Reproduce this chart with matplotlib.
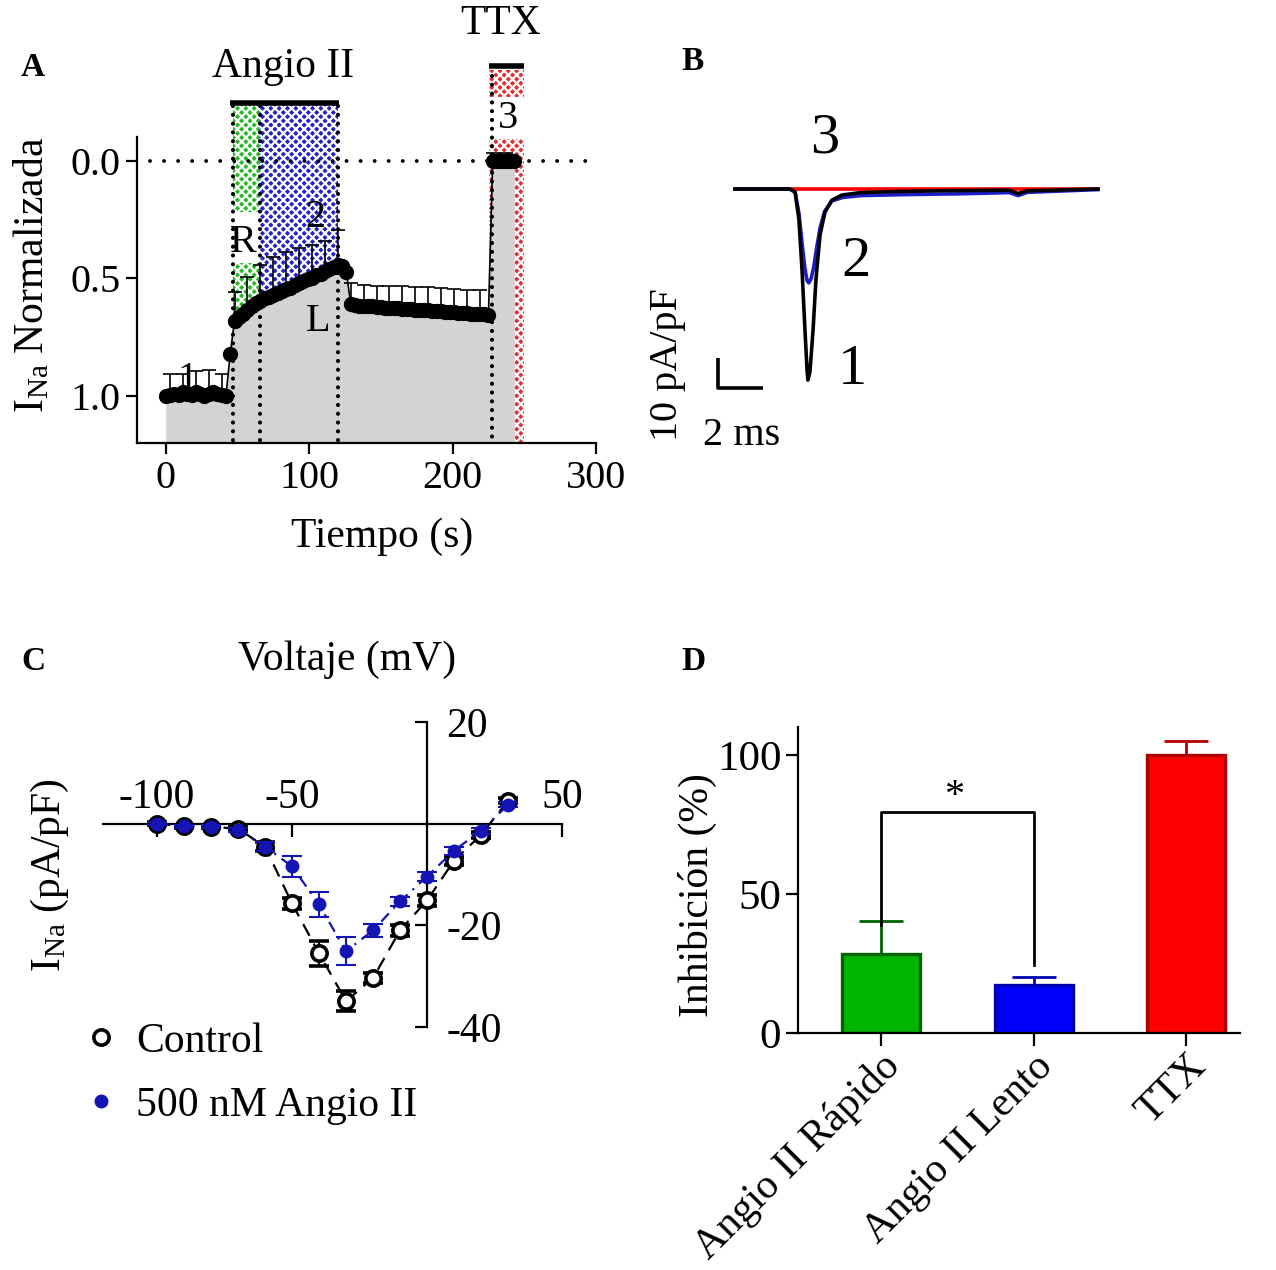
import matplotlib
matplotlib.use('Agg')
import matplotlib.pyplot as plt
from matplotlib.patches import Rectangle
from matplotlib.lines import Line2D

plt.rcParams['font.family'] = ['Liberation Serif', 'DejaVu Serif']
plt.rcParams['mathtext.fontset'] = 'custom'
plt.rcParams['mathtext.rm'] = 'Liberation Serif'
plt.rcParams['mathtext.it'] = 'Liberation Serif:italic'
plt.rcParams['hatch.linewidth'] = 1.6
plt.rcParams['axes.linewidth'] = 1.6
plt.rcParams['axes.unicode_minus'] = False

# ---- panel A: normalized I_Na vs time ----
t_base = [0, 3, 6, 9, 12, 15, 18, 21, 24, 27, 30, 33, 36, 39, 42]
v_base = [1.0, 0.995, 0.99, 0.995, 0.985, 0.99, 0.995, 0.985, 0.99, 1.0, 0.99, 0.985, 0.99, 0.995, 1.0]
e_base = [0.09, 0.09, 0.09, 0.09, 0.08, 0.1, 0.1, 0.09, 0.09, 0.1, 0.1, 0.09, 0.09, 0.09, 0.08]

t_rise = [45, 48, 51, 54, 57, 60, 63, 66, 69, 72, 75, 78, 81, 84, 87, 90, 93, 96, 99,
          102, 105, 108, 111, 114, 117, 120, 123, 126]
v_rise = [0.82, 0.68, 0.665, 0.65, 0.635, 0.62, 0.605, 0.595, 0.585, 0.578, 0.57, 0.562,
          0.555, 0.547, 0.54, 0.53, 0.522, 0.513, 0.505, 0.497, 0.488, 0.48, 0.47, 0.462,
          0.452, 0.445, 0.45, 0.475]
e_rise = [0.0, 0.12, 0.13, 0.13, 0.14, 0.14, 0.14, 0.15, 0.15, 0.15, 0.16, 0.16, 0.16,
          0.16, 0.16, 0.15, 0.15, 0.15, 0.14, 0.14, 0.14, 0.13, 0.13, 0.14, 0.14, 0.15,
          0.12, 0.1]

t_plat = [129, 132, 135, 138, 141, 144, 147, 150, 153, 156, 159, 162, 165, 168, 171, 174,
          177, 180, 183, 186, 189, 192, 195, 198, 201, 204, 207, 210, 213, 216, 219, 222, 225]
v_plat = [0.61, 0.615, 0.617, 0.618, 0.62, 0.62, 0.622, 0.623, 0.625, 0.626, 0.627, 0.628,
          0.63, 0.63, 0.632, 0.633, 0.635, 0.636, 0.637, 0.638, 0.64, 0.64, 0.642, 0.643,
          0.645, 0.646, 0.647, 0.648, 0.65, 0.65, 0.652, 0.653, 0.655]
e_plat = [0.09, 0.09, 0.09, 0.09, 0.09, 0.09, 0.09, 0.09, 0.09, 0.095, 0.095, 0.095, 0.095,
          0.095, 0.095, 0.095, 0.095, 0.1, 0.1, 0.1, 0.1, 0.1, 0.1, 0.1, 0.1, 0.1, 0.1,
          0.1, 0.1, 0.1, 0.1, 0.1, 0.1]

t_ttx = [228, 231, 234, 237, 240, 243]
v_ttx = [0.0, 0.0, 0.0, 0.0, 0.0, 0.0]
e_ttx = [0.03, 0.03, 0.03, 0.03, 0.03, 0.03]

t_all = t_base + t_rise + t_plat + t_ttx
v_all = v_base + v_rise + v_plat + v_ttx
e_all = e_base + e_rise + e_plat + e_ttx

# ---- panel B: current traces (ms, pA/pF) ----
tr_t1 = [0, 2.44, 2.67, 2.84, 2.98, 3.11, 3.2, 3.24, 3.33, 3.47, 3.6, 3.78, 4.0, 4.31,
         4.76, 5.56, 7.33, 10.0, 12.2, 12.58, 13.0, 16.13]
tr_i1 = [0, 0, -1, -10, -27, -47, -60, -63.7, -61, -47, -30, -15.3, -7.7, -3.7,
         -2, -1.2, -0.8, -0.5, -0.4, -1.5, -0.6, 0]
tr_t2 = [0, 2.44, 2.67, 2.84, 2.98, 3.1, 3.2, 3.28, 3.38, 3.5, 3.62, 3.78, 3.98, 4.3,
         4.8, 5.6, 7.3, 10.0, 12.2, 12.58, 13.0, 16.13]
tr_i2 = [0, 0, -1, -8, -18, -26, -30.5, -31.3, -30, -26, -20, -13, -7.5, -4,
         -2.8, -2.2, -1.9, -1.6, -1.2, -2.2, -1.1, -0.2]
tr_t3 = [0, 16.13]
tr_i3 = [0, 0]

# ---- panel C: I-V curves ----
volt = [-100, -90, -80, -70, -60, -50, -40, -30, -20, -10, 0, 10, 20, 30]
ctrl = [0, -0.5, -0.6, -1.0, -4.5, -15.7, -25.5, -34.9, -30.4, -21, -15.1, -7.3, -2.2, 4.5]
ctrl_err = [0.3, 0.3, 0.3, 0.4, 0.8, 1.0, 2.5, 2.0, 1.0, 1.0, 1.0, 0.8, 0.6, 0.5]
ang = [0, -0.5, -0.6, -1.3, -4.5, -8.4, -15.9, -25.1, -21, -15.3, -10.4, -5.3, -1.4, 3.7]
ang_err = [0.3, 0.3, 0.3, 0.4, 0.8, 2.0, 2.5, 2.8, 1.3, 0.8, 0.8, 0.8, 0.6, 0.5]

# ---- panel D: inhibition ----
groups = ['Angio II Rápido', 'Angio II Lento', 'TTX']
inhib = [28.5, 17.2, 100]
inhib_err = [11.8, 3.0, 5.0]
face_cols = ['#00b400', '#0000ff', '#ff0000']
edge_cols = ['#006400', '#0000b0', '#b00000']

W, H = 1276, 1270


def box(l, t, r, b):
    return [l / W, 1 - b / H, (r - l) / W, (b - t) / H]


def fp(x, y):
    return x / W, 1 - y / H


fig = plt.figure(figsize=(W / 100, H / 100), dpi=100)
FS = 29

# ================= A =================
axA = fig.add_axes(box(137, 137, 596, 443))
axA.set_xlim(-20, 300)
axA.set_ylim(1.2, -0.1)
for s in ['top', 'right']:
    axA.spines[s].set_visible(False)

x_r0, x_r1, x_l1, x_t0, x_t1 = 46.7, 65.5, 119.9, 225.5, 249.5
axA.add_patch(Rectangle((x_r0, -0.25), x_r1 - x_r0, 1.45, facecolor='#22bb22',
                        edgecolor='white', hatch='xxxx', lw=0, clip_on=False, zorder=1))
axA.add_patch(Rectangle((x_r1, -0.25), x_l1 - x_r1, 1.45, facecolor='#2222cc',
                        edgecolor='white', hatch='xxxx', lw=0, clip_on=False, zorder=1))
axA.add_patch(Rectangle((x_t0, -0.385), x_t1 - x_t0, 1.585, facecolor='#e03030',
                        edgecolor='white', hatch='xxxx', lw=0, clip_on=False, zorder=1))
axA.add_patch(Rectangle((x_r0, 0.22), x_r1 - x_r0, 0.215, facecolor='white', lw=0,
                        clip_on=False, zorder=1.5))
axA.add_patch(Rectangle((x_t0, -0.27), x_t1 - x_t0, 0.18, facecolor='white', lw=0,
                        clip_on=False, zorder=1.5))

axA.fill_between(t_all, v_all, 1.2, color='#d3d3d3', lw=0, zorder=2)

for xv, y0 in [(x_r0, -0.23), (x_r1, -0.23), (x_l1, -0.23), (227.2, -0.36)]:
    axA.plot([xv, xv], [y0, 1.2], color='k', lw=3, ls=(0, (0.01, 2.1)),
             dash_capstyle='round', clip_on=False, zorder=3)
axA.plot([-11, 300], [0, 0], color='k', lw=2.8, ls=(0, (0.01, 3.6)),
         dash_capstyle='round', clip_on=False, zorder=3)

axA.errorbar(t_all, v_all, yerr=[e_all, [0] * len(e_all)], fmt='-o', color='k',
             ms=10, lw=1.2, elinewidth=1.2, capsize=5, capthick=1.2,
             errorevery=(1, 3), zorder=4)

axA.plot([45, 121], [-0.243, -0.243], color='k', lw=4, solid_capstyle='butt',
         clip_on=False)
axA.plot([225.5, 249.5], [-0.40, -0.40], color='k', lw=4, solid_capstyle='butt',
         clip_on=False)

axA.text(81.5, -0.40, 'Angio II', fontsize=FS + 1, ha='center', va='center')
axA.text(233.4, -0.58, 'TTX', fontsize=FS + 1, ha='center', va='center')
for lab, xx, yy in [('1', 15.3, 0.93), ('R', 54.4, 0.35), ('2', 104.5, 0.24),
                    ('L', 106, 0.685), ('3', 239, -0.18)]:
    axA.text(xx, yy, lab, fontsize=FS, ha='center', va='center', zorder=6)

axA.set_xticks([0, 100, 200, 300])
axA.set_yticks([0, 0.5, 1.0])
axA.set_yticklabels(['0.0', '0.5', '1.0'])
axA.tick_params(labelsize=FS, length=8, width=1.6, direction='out', pad=4)
fig.text(*fp(382, 537), 'Tiempo (s)', fontsize=FS + 1, ha='center', va='center')
fig.text(*fp(32, 275), r'I$_{\mathrm{Na}}$ Normalizada', fontsize=FS + 1,
         ha='center', va='center', rotation=90)

# ================= B =================
axB = fig.add_axes(box(700, 100, 1110, 450))
axB.set_xlim(-1.556, 16.67)
axB.set_ylim(-87, 29.67)
axB.axis('off')
axB.plot(tr_t3, tr_i3, color='#ff0000', lw=2.6, zorder=1)
axB.plot(tr_t2, tr_i2, color='#1e1ec8', lw=2.6, zorder=2)
axB.plot(tr_t1, tr_i1, color='k', lw=2.6, zorder=3)
sb_x, sb_y = -0.756, -66.3
axB.plot([sb_x, sb_x, sb_x + 2], [sb_y + 10, sb_y, sb_y], color='k', lw=2.6,
         solid_capstyle='butt', clip_on=False)
axB.text(4.0, 17.0, '3', fontsize=42, ha='center', va='center')
axB.text(5.4, -24.3, '2', fontsize=42, ha='center', va='center')
axB.text(5.2, -60.3, '1', fontsize=42, ha='center', va='center')
fig.text(*fp(668, 365), '10 pA/pF', fontsize=FS, ha='center', va='center', rotation=90)
fig.text(*fp(742, 435), '2 ms', fontsize=FS, ha='center', va='center')

# ================= C =================
axC = fig.add_axes(box(103, 722, 562, 1027))
axC.set_xlim(-120, 50)
axC.set_ylim(-40, 20)
axC.spines['left'].set_visible(False)
axC.spines['bottom'].set_visible(False)
axC.spines['top'].set_position(('data', 0))
axC.spines['right'].set_position(('data', 0))
axC.xaxis.tick_top()
axC.yaxis.tick_right()
axC.set_xticks([-100, -50, 50])
axC.set_yticks([20, -20, -40])
axC.tick_params(axis='x', direction='in', length=9, width=1.6, labelsize=FS + 1, pad=5)
axC.tick_params(axis='y', direction='in', length=9, width=1.6, labelsize=FS + 1, pad=14)
axC.errorbar(volt, ctrl, yerr=ctrl_err, fmt='o', mfc='white', mec='k', mew=2.6, ms=11,
             ecolor='k', elinewidth=1.5, capsize=7, capthick=1.5, zorder=3,
             ls=(0, (6, 4)), color='k', lw=1.6, clip_on=False)
axC.errorbar(volt, ang, yerr=ang_err, fmt='o', color='#1414b4', ms=9, ecolor='#1414b4',
             elinewidth=1.5, capsize=7, capthick=1.5, zorder=4, ls=(0, (5, 3, 1, 3)),
             lw=1.6, clip_on=False)
fig.text(*fp(347, 660), 'Voltaje (mV)', fontsize=FS + 1, ha='center', va='center')
fig.text(*fp(50, 875), r'I$_{\mathrm{Na}}$ (pA/pF)', fontsize=FS + 1, ha='center',
         va='center', rotation=90)
handles = [Line2D([], [], ls='none', marker='o', mfc='white', mec='k', mew=2.6, ms=11),
           Line2D([], [], ls='none', marker='o', color='#1414b4', ms=9)]
fig.legend(handles, ['Control', '500 nM Angio II'], loc='upper left',
           bbox_to_anchor=fp(80, 1022), frameon=False, fontsize=FS + 1,
           handlelength=1.0, handletextpad=0.35, labelspacing=0.62,
           borderpad=0, borderaxespad=0)

# ================= D =================
axD = fig.add_axes(box(798, 727, 1240, 1033))
axD.set_xlim(-0.54, 2.35)
axD.set_ylim(0, 110)
for s in ['top', 'right']:
    axD.spines[s].set_visible(False)
xs = range(len(groups))
axD.bar(xs, inhib, width=0.51, color=face_cols, edgecolor=edge_cols, lw=2.4, zorder=2)
for i in xs:
    axD.errorbar(i, inhib[i], yerr=[[0], [inhib_err[i]]], color=edge_cols[i],
                 elinewidth=2, capsize=16, capthick=2, zorder=1)
axD.plot([0, 0, 1, 1], [39, 79.5, 79.5, 24.5], color='k', lw=2)
axD.text(0.48, 85, '*', fontsize=FS, ha='center', va='center')
axD.set_yticks([0, 50, 100])
axD.set_xticks(list(xs))
axD.set_xticklabels(groups, rotation=45, ha='right', va='top', rotation_mode='anchor',
                    fontsize=FS + 1)
axD.tick_params(axis='y', labelsize=FS + 2, length=9, width=1.6, direction='out', pad=3)
axD.tick_params(axis='x', length=9, width=1.6, direction='out', pad=1)
fig.text(*fp(697, 895), 'Inhibición (%)', fontsize=FS + 1, ha='center', va='center',
         rotation=90)

for lab, x, y in [('A', 33, 68), ('B', 693, 62), ('C', 33, 662), ('D', 693, 662)]:
    fig.text(*fp(x, y), lab, fontsize=24, weight='bold', ha='center', va='center')

fig.savefig('out.png', dpi=100)
